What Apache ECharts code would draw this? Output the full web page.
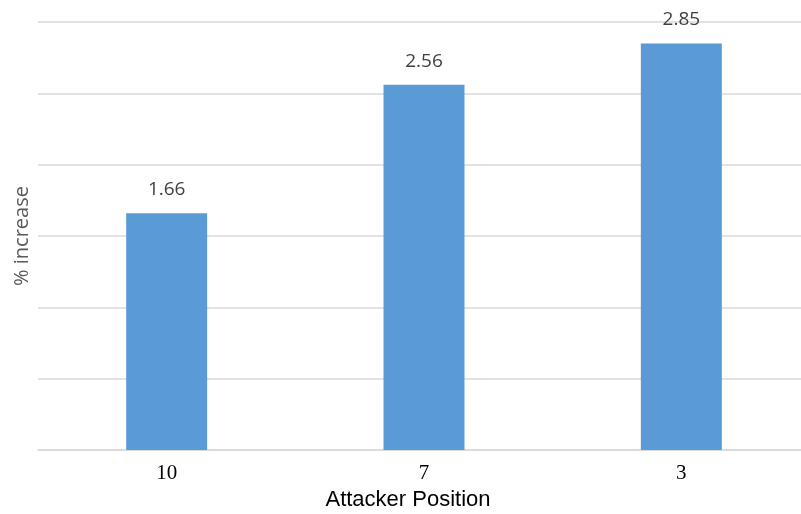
<!DOCTYPE html>
<html>
<head>
<meta charset="utf-8">
<script src="https://cdn.jsdelivr.net/npm/echarts@6/dist/echarts.min.js"></script>
<style>
  html, body { margin: 0; padding: 0; background: #fff; }
  #chart { width: 801px; height: 514px; }
</style>
</head>
<body>
<div id="chart"></div>
<script>
var positions = ['10', '7', '3'];
var increases = [1.66, 2.56, 2.85];

var chart = echarts.init(document.getElementById('chart'));
chart.setOption({
    animation: false,
    grid: { left: 38, width: 772, top: 22, bottom: 64, containLabel: false, outerBoundsMode: 'none' },
    xAxis: {
        type: 'category',
        data: positions,
        name: 'Attacker Position',
        nameLocation: 'middle',
        nameGap: 37,
        nameTextStyle: { fontFamily: 'Liberation Sans', fontSize: 22, color: '#000', padding: [0, 32, 0, 0] },
        axisLine: { lineStyle: { color: '#d9d9d9', width: 1.5 } },
        axisTick: { show: false },
        axisLabel: { margin: 13, fontFamily: 'Liberation Serif', fontSize: 21, color: '#000' }
    },
    yAxis: {
        type: 'value',
        min: 0, max: 3, interval: 0.5,
        name: '% increase',
        nameLocation: 'middle',
        nameGap: 6,
        nameTextStyle: { fontFamily: 'Open Sans', fontSize: 20, color: '#595959' },
        axisLabel: { show: false },
        axisLine: { show: false },
        axisTick: { show: false },
        splitLine: { lineStyle: { color: '#d9d9d9', width: 1.5 } }
    },
    series: [{
        type: 'bar',
        data: increases,
        barWidth: 81,
        itemStyle: { color: '#5b9bd5' },
        label: {
            show: true, position: 'top', distance: 14,
            fontFamily: 'Open Sans', fontSize: 19, color: '#404040',
            formatter: function (p) { return p.value.toFixed(2); }
        }
    }]
});
</script>
</body>
</html>
